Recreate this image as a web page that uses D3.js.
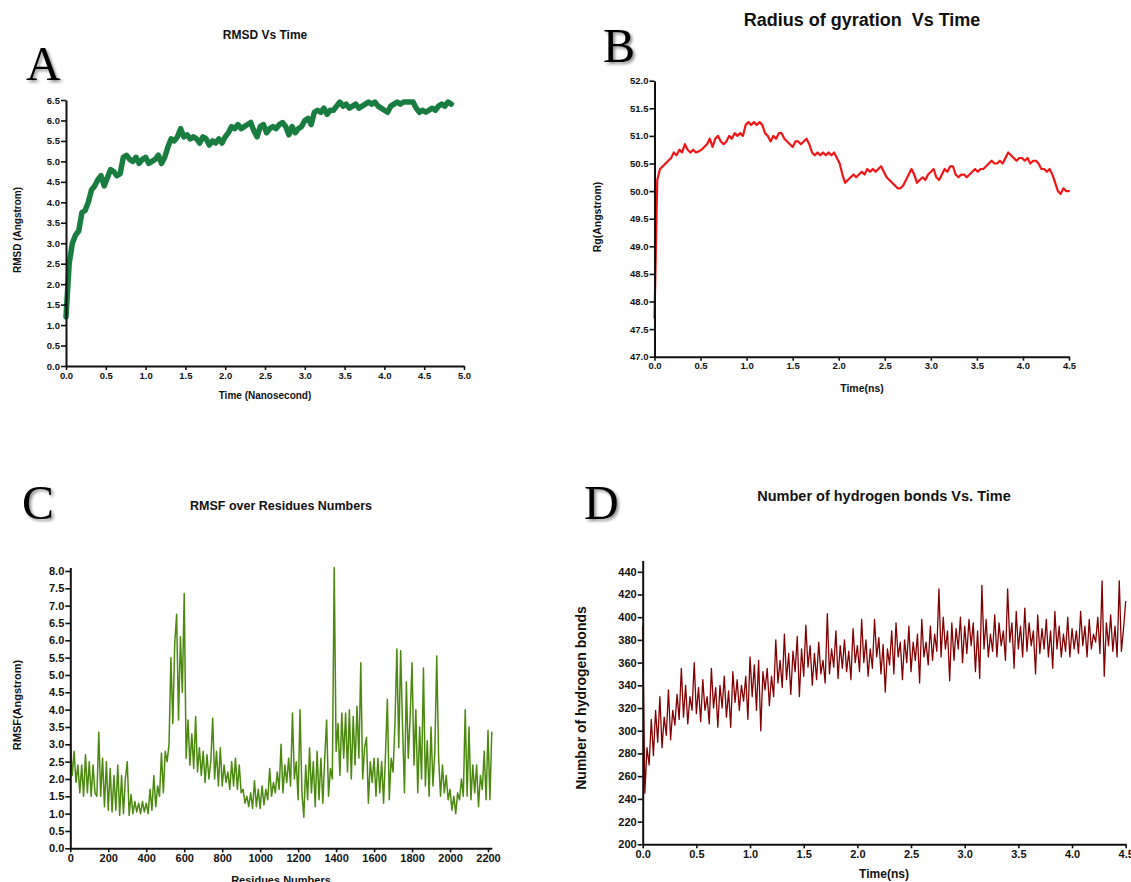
<!DOCTYPE html>
<meta charset="utf-8">
<style>
body { margin: 0; background: #fff; }
text { font-family: "Liberation Sans", Arial, sans-serif; font-weight: bold; fill: #111; }
.letter { font-family: "Liberation Serif", "Times New Roman", serif; font-weight: normal; font-size: 48px; fill: #000; }
.axis path, .axis line { stroke: #111; }
.axis .domain { stroke-width: 2px; }
.axis .tick line { stroke-width: 1.6px; }
</style>
<body>
<script src="https://d3js.org/d3.v7.min.js"></script>
<script>

// A: RMSD (Angstrom), sampled every 0.04 ns from 0
var rmsdStep = 0.04;
var rmsdValues = [
  1.2, 2.5, 3.0, 3.2, 3.3, 3.75, 3.8, 4.0, 4.3, 4.4,
  4.55, 4.65, 4.4, 4.6, 4.8, 4.75, 4.65, 4.7, 5.1, 5.15,
  5.05, 5.0, 5.1, 4.95, 5.05, 5.1, 4.95, 5.0, 5.05, 5.15,
  4.95, 5.1, 5.35, 5.55, 5.5, 5.6, 5.8, 5.6, 5.65, 5.55,
  5.6, 5.55, 5.45, 5.6, 5.55, 5.4, 5.5, 5.45, 5.55, 5.45,
  5.6, 5.7, 5.85, 5.8, 5.9, 5.8, 5.85, 5.9, 5.95, 5.75,
  5.6, 5.85, 5.9, 5.7, 5.8, 5.85, 5.8, 5.9, 5.95, 5.85,
  5.65, 5.85, 5.7, 5.8, 5.85, 6.0, 6.05, 5.9, 6.2, 6.25,
  6.2, 6.3, 6.15, 6.25, 6.25, 6.35, 6.45, 6.35, 6.4, 6.3,
  6.35, 6.4, 6.3, 6.35, 6.4, 6.45, 6.4, 6.45, 6.35, 6.3,
  6.25, 6.2, 6.35, 6.4, 6.45, 6.4, 6.45, 6.45, 6.45, 6.45,
  6.3, 6.2, 6.25, 6.2, 6.25, 6.3, 6.25, 6.35, 6.4, 6.35,
  6.45, 6.4
];

// B: radius of gyration (Angstrom), every 0.03 ns
var rgStep = 0.03;
var rgValues = [
  47.7, 50.2, 50.4, 50.45, 50.5, 50.55, 50.6, 50.7, 50.65, 50.75,
  50.7, 50.85, 50.75, 50.7, 50.75, 50.7, 50.72, 50.75, 50.8, 50.85,
  50.95, 50.8, 50.95, 51.0, 50.9, 50.85, 50.9, 51.0, 50.95, 51.05,
  51.0, 51.05, 51.0, 51.2, 51.25, 51.2, 51.25, 51.2, 51.25, 51.2,
  51.05, 51.0, 50.9, 51.0, 50.95, 51.05, 51.05, 50.95, 50.9, 50.85,
  50.8, 50.9, 50.9, 50.85, 50.9, 50.95, 50.85, 50.7, 50.65, 50.7,
  50.65, 50.7, 50.65, 50.7, 50.65, 50.7, 50.6, 50.5, 50.3, 50.15,
  50.2, 50.25, 50.3, 50.25, 50.3, 50.35, 50.3, 50.4, 50.35, 50.4,
  50.35, 50.4, 50.45, 50.35, 50.25, 50.2, 50.15, 50.1, 50.05, 50.05,
  50.1, 50.2, 50.3, 50.4, 50.3, 50.15, 50.2, 50.25, 50.2, 50.3,
  50.35, 50.4, 50.25, 50.2, 50.3, 50.4, 50.35, 50.45, 50.45, 50.3,
  50.25, 50.3, 50.3, 50.25, 50.3, 50.35, 50.4, 50.35, 50.4, 50.4,
  50.45, 50.5, 50.55, 50.5, 50.5, 50.55, 50.5, 50.6, 50.7, 50.65,
  50.6, 50.55, 50.6, 50.6, 50.55, 50.6, 50.5, 50.55, 50.55, 50.5,
  50.4, 50.4, 50.35, 50.4, 50.3, 50.15, 50.0, 49.95, 50.05, 50.0,
  50.0
];

// C: RMSF (Angstrom), every 10 residues from 0
var rmsfStep = 10;
var rmsfValues = [
  3.0, 2.1, 2.8, 1.9, 2.4, 1.6, 2.4, 1.5, 2.7, 1.6,
  2.5, 1.5, 2.4, 1.6, 1.5, 3.35, 1.5, 2.6, 1.2, 2.5,
  1.1, 2.3, 1.05, 2.1, 1.1, 2.4, 0.95, 2.1, 1.0, 2.0,
  2.5, 0.95, 1.55, 1.0, 1.35, 1.05, 1.3, 1.0, 1.35, 1.05,
  1.3, 1.0, 1.7, 1.1, 2.1, 1.2, 1.8, 1.5, 2.75, 1.6,
  2.8, 2.5, 3.0, 5.5, 3.6, 5.9, 6.75, 3.7, 6.1, 4.5,
  7.35, 2.6, 3.7, 2.4, 3.3, 2.3, 3.8, 2.2, 2.9, 2.1,
  2.8, 1.9, 2.7, 2.0, 2.5, 3.75, 2.0, 2.8, 1.8, 2.9,
  1.8, 2.4, 1.9, 2.2, 1.7, 2.5, 1.8, 2.6, 1.7, 2.4,
  1.6, 1.7, 1.3, 1.5, 1.2, 1.6, 1.15, 1.95, 1.2, 1.7,
  1.15, 1.8, 1.25, 1.7, 1.4, 2.3, 1.5, 1.9, 1.6, 2.2,
  1.7, 3.0, 1.6, 2.4, 1.9, 2.6, 1.8, 3.9, 2.0, 2.5,
  1.4, 4.0, 1.6, 0.9, 2.4, 1.4, 2.9, 1.6, 2.5, 1.2,
  2.8, 1.4, 2.6, 1.3, 2.6, 3.7, 1.5, 2.3, 2.0, 8.1,
  2.8, 3.6, 2.1, 3.9, 2.6, 3.9, 2.2, 4.0, 2.0, 3.8,
  2.4, 4.1, 2.6, 5.35, 2.0, 2.9, 3.2, 1.3, 2.5, 1.9,
  2.6, 1.5, 2.6, 1.6, 2.5, 1.3, 2.7, 4.3, 1.4, 2.6,
  2.2, 3.6, 5.75, 2.9, 5.7, 3.5, 1.6, 4.8, 2.6, 3.8,
  5.35, 2.4, 4.0, 1.6, 3.5, 2.0, 5.2, 1.8, 3.1, 1.5,
  3.5, 1.8, 2.8, 5.55, 2.6, 1.5, 2.4, 1.6, 2.1, 1.4,
  1.7, 1.1, 1.5, 1.0, 1.6, 1.4, 2.0, 1.5, 4.0, 1.5,
  3.5, 1.4, 2.4, 1.6, 2.4, 1.2, 2.1, 1.7, 2.8, 1.4,
  3.4, 1.4, 3.35
];

// D: number of hydrogen bonds, every 0.02 ns
var hbStep = 0.02;
var hbValues = [
  392, 245, 285, 270, 310, 278, 318, 290, 330, 285,
  312, 296, 336, 292, 318, 305, 332, 310, 355, 312,
  340, 306, 330, 318, 360, 315, 338, 308, 345, 318,
  330, 306, 355, 320, 338, 303, 340, 320, 348, 312,
  335, 303, 352, 325, 345, 318, 340, 326, 348, 310,
  365, 330, 358, 318, 362, 300, 352, 336, 355, 322,
  348, 330, 380, 342, 362, 338, 385, 345, 368, 332,
  370, 352, 383, 330, 372, 348, 393, 356, 375, 340,
  368, 345, 378, 350, 362, 342, 403, 350, 372, 356,
  388, 346, 375, 355, 380, 352, 370, 345, 390, 360,
  375, 352, 398, 360, 380, 348, 372, 355, 398, 365,
  382, 350, 376, 334, 372, 358, 388, 350, 395, 365,
  378, 345, 380, 360, 392, 352, 378, 362, 385, 342,
  398, 365, 378, 358, 392, 362, 385, 370, 425, 365,
  400, 372, 388, 344, 395, 362, 390, 372, 400, 360,
  392, 368, 398, 375, 395, 352, 388, 346, 428, 372,
  398, 365, 385, 370, 402, 365, 395, 375, 388, 362,
  425, 378, 395, 355, 405, 372, 392, 365, 408, 370,
  395, 375, 388, 350, 402, 368, 390, 372, 398, 365,
  388, 355, 405, 372, 392, 365, 385, 370, 400, 365,
  390, 372, 388, 368, 405, 375, 392, 365, 398, 372,
  385, 378, 400, 368, 432, 348, 395, 375, 402, 370,
  392, 365, 432, 370, 390, 414
];

var svg = d3.select("body").append("svg")
    .attr("width", 1131)
    .attr("height", 882);

var defs = svg.append("defs");
defs.append("filter")
    .attr("id", "shadow")
    .attr("x", "-20%").attr("y", "-20%")
    .attr("width", "160%").attr("height", "160%")
  .append("feDropShadow")
    .attr("dx", 2).attr("dy", 2)
    .attr("stdDeviation", 1.5)
    .attr("flood-color", "#000")
    .attr("flood-opacity", 0.45);

function ticksBy(lo, hi, step) {
  var n = Math.round((hi - lo) / step);
  return d3.range(n + 1).map(i => lo + i * step);
}

function panel(p) {
  var g = svg.append("g");

  var x = d3.scaleLinear().domain(p.xDomain).range(p.xRange);
  var y = d3.scaleLinear().domain(p.yDomain).range(p.yRange);

  var line = d3.line()
      .x((d, i) => x(i * p.step))
      .y(d => y(d));

  g.append("path")
      .datum(p.values)
      .attr("fill", "none")
      .attr("stroke", p.color)
      .attr("stroke-width", p.width)
      .attr("stroke-linejoin", "round")
      .attr("stroke-linecap", "round")
      .attr("d", line);

  var xAxis = d3.axisBottom(x)
      .tickValues(p.xTicks)
      .tickFormat(p.xFormat)
      .tickSize(4)
      .tickSizeOuter(0)
      .tickPadding(2);

  var yAxis = d3.axisLeft(y)
      .tickValues(p.yTicks)
      .tickFormat(p.yFormat)
      .tickSize(5)
      .tickSizeOuter(0)
      .tickPadding(1);

  g.append("g")
      .attr("class", "axis")
      .attr("transform", `translate(0, ${p.yRange[0]})`)
      .call(xAxis)
      .selectAll("text")
      .style("font-size", p.tickFont + "px")
      .style("font-family", "Liberation Sans, Arial, sans-serif")
      .style("font-weight", "bold")
      .attr("fill", "#111");

  g.append("g")
      .attr("class", "axis")
      .attr("transform", `translate(${p.xRange[0]}, 0)`)
      .call(yAxis)
      .selectAll("text")
      .style("font-size", p.tickFont + "px")
      .style("font-family", "Liberation Sans, Arial, sans-serif")
      .style("font-weight", "bold")
      .attr("fill", "#111");

  g.selectAll(".axis .domain").attr("stroke-width", 2);

  g.append("text")
      .attr("x", p.title[1]).attr("y", p.title[2])
      .attr("text-anchor", "middle")
      .style("font-size", p.title[3] + "px")
      .style("white-space", "pre")
      .text(p.title[0]);

  g.append("text")
      .attr("x", p.xLabel[1]).attr("y", p.xLabel[2])
      .attr("text-anchor", "middle")
      .style("font-size", p.xLabel[3] + "px")
      .text(p.xLabel[0]);

  g.append("text")
      .attr("transform", `translate(${p.yLabel[1]}, ${p.yLabel[2]}) rotate(-90)`)
      .attr("text-anchor", "middle")
      .attr("dy", "0.35em")
      .style("font-size", p.yLabel[3] + "px")
      .text(p.yLabel[0]);

  g.append("text")
      .attr("class", "letter")
      .attr("x", p.letter[1]).attr("y", p.letter[2])
      .attr("filter", "url(#shadow)")
      .text(p.letter[0]);
}

var f1 = d3.format(".1f");

panel({
  values: rmsdValues, step: rmsdStep,
  xDomain: [0, 5], xRange: [66, 464],
  yDomain: [0, 6.5], yRange: [366, 100],
  xTicks: ticksBy(0, 5, 0.5), yTicks: ticksBy(0, 6.5, 0.5),
  xFormat: f1, yFormat: f1, tickFont: 9.5,
  color: "#1a7d40", width: 5.5,
  title: ["RMSD Vs Time", 265, 39, 12],
  xLabel: ["Time (Nanosecond)", 265, 399, 10],
  yLabel: ["RMSD (Angstrom)", 17, 230, 10],
  letter: ["A", 26, 80]
});

panel({
  values: rgValues, step: rgStep,
  xDomain: [0, 4.5], xRange: [654.5, 1069],
  yDomain: [47, 52], yRange: [356.7, 80.7],
  xTicks: ticksBy(0, 4.5, 0.5), yTicks: ticksBy(47, 52, 0.5),
  xFormat: f1, yFormat: f1, tickFont: 9.5,
  color: "#f21515", width: 2.2,
  title: ["Radius of gyration  Vs Time", 862, 26, 18],
  xLabel: ["Time(ns)", 862, 392, 10.5],
  yLabel: ["Rg(Angstrom)", 597, 217, 10.5],
  letter: ["B", 603, 62]
});

panel({
  values: rmsfValues, step: rmsfStep,
  xDomain: [0, 2220], xRange: [70.3, 491.8],
  yDomain: [0, 8.1], yRange: [848.3, 567.5],
  xTicks: ticksBy(0, 2200, 200), yTicks: ticksBy(0, 8, 0.5),
  xFormat: d3.format("d"), yFormat: f1, tickFont: 11,
  color: "#4b8a0f", width: 1.5,
  title: ["RMSF over Residues Numbers", 281, 510, 12.5],
  xLabel: ["Residues Numbers", 281, 884, 11],
  yLabel: ["RMSF(Angstrom)", 17, 705, 11],
  letter: ["C", 22, 519]
});

panel({
  values: hbValues, step: hbStep,
  xDomain: [0, 4.5], xRange: [642.7, 1125.7],
  yDomain: [200, 450], yRange: [844.3, 560.4],
  xTicks: ticksBy(0, 4.5, 0.5), yTicks: ticksBy(200, 440, 20),
  xFormat: f1, yFormat: d3.format("d"), tickFont: 11,
  color: "#820000", width: 1.3,
  title: ["Number of hydrogen bonds Vs. Time", 884, 501, 14.5],
  xLabel: ["Time(ns)", 884, 878, 12],
  yLabel: ["Number of hydrogen bonds", 581, 698, 14],
  letter: ["D", 584, 519]
});

</script>
